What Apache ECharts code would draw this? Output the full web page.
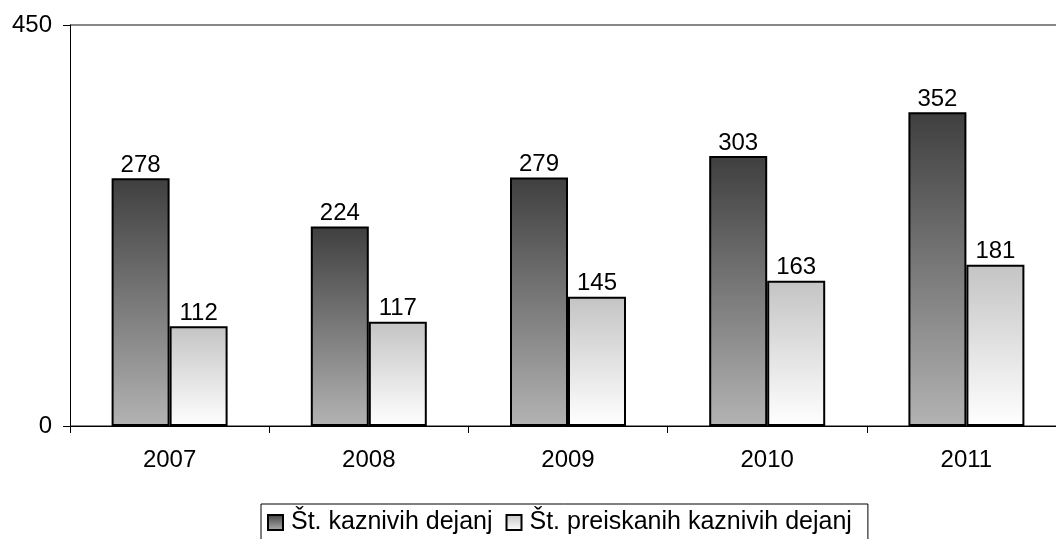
<!DOCTYPE html>
<html>
<head>
<meta charset="utf-8">
<script src="https://cdn.jsdelivr.net/npm/echarts@6/dist/echarts.min.js"></script>
<style>
  html, body { margin: 0; padding: 0; background: #fff; }
  #chart { width: 1056px; height: 539px; }
</style>
</head>
<body>
<div id="chart"></div>
<script>
var years = ['2007', '2008', '2009', '2010', '2011']
var kazniva = [278, 224, 279, 303, 352]
var preiskana = [112, 117, 145, 163, 181]
var seriesNames = ['Št. kaznivih dejanj', 'Št. preiskanih kaznivih dejanj']

var font = 'Liberation Sans, Arial, sans-serif'
var fs = 24
var chart = echarts.init(document.getElementById('chart'))

function grad(top, bottom) {
    return new echarts.graphic.LinearGradient(0, 0, 0, 1, [
        { offset: 0, color: top },
        { offset: 1, color: bottom }
    ])
}

var option = {
    backgroundColor: '#fff',
    animation: false,
    grid: { left: 70, top: 25, width: 996, height: 401, outerBoundsMode: 'none', containLabel: false },
    legend: {
        left: 261,
        top: 504,
        padding: [6, 16, 6, 6],
        itemGap: 13,
        itemWidth: 15,
        itemHeight: 15,
        borderColor: '#000',
        borderWidth: 1,
        borderRadius: 0,
        icon: 'rect',
        textStyle: { fontFamily: font, fontSize: 25, color: '#000', padding: [0, 0, 0, 3] },
        data: seriesNames
    },
    xAxis: {
        type: 'category',
        data: years,
        axisLine: { lineStyle: { color: '#000', width: 1 } },
        axisTick: { show: true, length: 7, lineStyle: { color: '#000' } },
        axisLabel: { fontFamily: font, fontSize: fs, color: '#000', margin: 22 }
    },
    yAxis: {
        type: 'value',
        min: 0,
        max: 450,
        interval: 450,
        axisLine: { show: true, lineStyle: { color: '#000', width: 1 } },
        axisTick: { show: true, length: 7, lineStyle: { color: '#000' } },
        axisLabel: { fontFamily: font, fontSize: fs, color: '#000', margin: 18 },
        splitLine: { show: true, lineStyle: { color: '#888', width: 2 } }
    },
    series: [
        {
            name: seriesNames[0],
            type: 'bar',
            data: kazniva,
            barWidth: 58,
            barGap: '0%',
            itemStyle: { color: grad('#3f3f3f', '#b3b3b3'), borderColor: '#000', borderWidth: 2 },
            label: { show: true, position: 'top', distance: 1, fontFamily: font, fontSize: fs, color: '#000' }
        },
        {
            name: seriesNames[1],
            type: 'bar',
            data: preiskana,
            barWidth: 58,
            barGap: '0%',
            itemStyle: { color: grad('#c4c4c4', '#ffffff'), borderColor: '#000', borderWidth: 2 },
            label: { show: true, position: 'top', distance: 1, fontFamily: font, fontSize: fs, color: '#000' }
        }
    ]
}
chart.setOption(option)
</script>
</body>
</html>
